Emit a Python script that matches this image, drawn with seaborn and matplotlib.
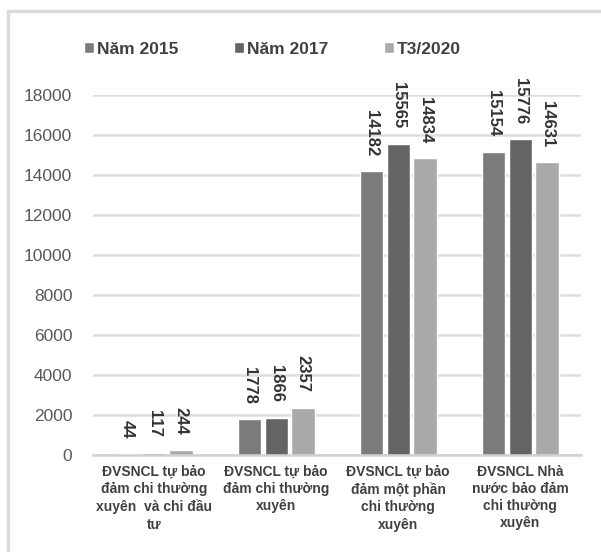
import matplotlib
matplotlib.use("Agg")
import matplotlib.pyplot as plt
from matplotlib.lines import Line2D
import numpy as np
import pandas as pd
import seaborn as sns

categories = [
    "ĐVSNCL tự bảo\nđảm chi thường\nxuyên  và chi đầu\ntư",
    "ĐVSNCL tự bảo\nđảm chi thường\nxuyên",
    "ĐVSNCL tự bảo\nđảm một phần\nchi thường\nxuyên",
    "ĐVSNCL Nhà\nnước bảo đảm\nchi thường\nxuyên",
]
series = ["Năm 2015", "Năm 2017", "T3/2020"]
nam_2015 = [44, 1778, 14182, 15154]
nam_2017 = [117, 1866, 15565, 15776]
t3_2020 = [244, 2357, 14834, 14631]
colors = ["#7b7b7b", "#646464", "#a9a9a9"]
y_ticks = list(range(0, 18001, 2000))

rows = []
for s, vals in zip(series, [nam_2015, nam_2017, t3_2020]):
    for c, v in zip(categories, vals):
        rows.append({"cat": c, "series": s, "value": v})
df = pd.DataFrame(rows)

sns.set_style("white")
plt.rcParams["font.family"] = ["Liberation Sans", "DejaVu Sans"]

fig = plt.figure(figsize=(6.01, 5.52), dpi=100)
ax = fig.add_axes([0.155, 0.176, 0.812, 0.652])

sns.barplot(data=df, x="cat", y="value", hue="series", order=categories,
            hue_order=series, palette=colors, width=0.66, gap=0.14,
            saturation=1, ax=ax, legend=True, errorbar=None)

ax.set_ylim(0, 18000)
ax.set_yticks(y_ticks)
ax.set_yticklabels([str(t) for t in y_ticks], fontsize=12.5, color="#595959")
ax.tick_params(axis="y", length=0, pad=15)
ax.tick_params(axis="x", length=0, pad=7)
for lbl in ax.get_xticklabels():
    lbl.set_fontsize(10)
    lbl.set_fontweight("bold")
    lbl.set_color("#404040")
    lbl.set_linespacing(1.3)
ax.set_xlabel("")
ax.set_ylabel("")
ax.yaxis.grid(True, color="#dddddd", linewidth=1.8)
ax.set_axisbelow(True)
for sp in ["top", "right", "left"]:
    ax.spines[sp].set_visible(False)
ax.spines["bottom"].set_color("#d0d0d0")
ax.spines["bottom"].set_linewidth(1.8)

for cont in ax.containers:
    ax.bar_label(cont, labels=[f"{v:.0f}" for v in cont.datavalues],
                 rotation=-90, padding=11, fontsize=12, fontweight="bold",
                 color="#333333")

handles, labels = ax.get_legend_handles_labels()
ax.get_legend().remove()
fig.legend(handles, labels, loc="center left", bbox_to_anchor=(0.12, 0.911),
           ncol=3, frameon=False,
           prop={"weight": "bold", "size": 12.5},
           handlelength=0.55, handleheight=0.55, handletextpad=0.2,
           columnspacing=3.2, labelcolor="#404040", borderpad=0.2)

# outer frame (top and left edges visible)
fig.add_artist(Line2D([0.0133, 1.0], [0.980, 0.980], transform=fig.transFigure,
                      color="#d9d9d9", linewidth=2.4))
fig.add_artist(Line2D([0.0133, 0.0133], [0.0, 0.980], transform=fig.transFigure,
                      color="#d9d9d9", linewidth=2.4))

fig.savefig("out.png", dpi=100)
